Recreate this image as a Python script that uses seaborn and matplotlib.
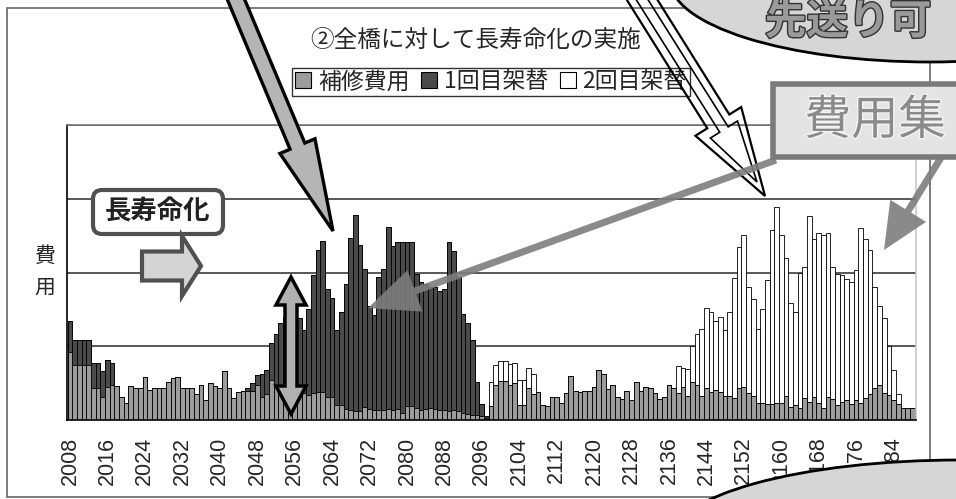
import numpy as np
import pandas as pd
import matplotlib
matplotlib.use('Agg')
import matplotlib.pyplot as plt
import matplotlib.patches as mpatches
import matplotlib.patheffects as pe
import seaborn as sns

# ---- data (y in grid units) ----
years = list(range(2008, 2189))

# 補修費用
repair = [
    0.92, 0.75, 0.75, 0.75, 0.75, 0.43, 0.43, 0.31,   # 2008-2015
    0.45, 0.47, 0.46, 0.31, 0.23, 0.46, 0.44, 0.43,   # 2016-2023
    0.58, 0.41, 0.44, 0.43, 0.43, 0.52, 0.57, 0.58,   # 2024-2031
    0.44, 0.44, 0.43, 0.35, 0.47, 0.27, 0.50, 0.46,   # 2032-2039
    0.43, 0.66, 0.43, 0.30, 0.38, 0.39, 0.39, 0.40,   # 2040-2047
    0.47, 0.31, 0.35, 0.54, 0.45, 0.42, 0.40, 0.38,   # 2048-2055
    0.36, 0.36, 0.36, 0.34, 0.37, 0.38, 0.38, 0.31,   # 2056-2063
    0.31, 0.21, 0.21, 0.15, 0.14, 0.12, 0.12, 0.18,   # 2064-2071
    0.15, 0.14, 0.14, 0.14, 0.15, 0.13, 0.15, 0.10,   # 2072-2079
    0.19, 0.19, 0.16, 0.14, 0.15, 0.16, 0.15, 0.14,   # 2080-2087
    0.14, 0.12, 0.13, 0.12, 0.10, 0.08, 0.07, 0.07,   # 2088-2095
    0.06, 0.03, 0.19, 0.47, 0.53, 0.53, 0.48, 0.50,   # 2096-2103
    0.21, 0.21, 0.43, 0.35, 0.38, 0.21, 0.19, 0.31,   # 2104-2111
    0.31, 0.23, 0.37, 0.59, 0.39, 0.38, 0.40, 0.40,   # 2112-2119
    0.45, 0.68, 0.62, 0.42, 0.48, 0.31, 0.28, 0.40,   # 2120-2127
    0.27, 0.52, 0.40, 0.45, 0.43, 0.36, 0.28, 0.31,   # 2128-2135
    0.47, 0.43, 0.36, 0.45, 0.32, 0.52, 0.47, 0.32,   # 2136-2143
    0.43, 0.38, 0.41, 0.38, 0.32, 0.32, 0.30, 0.44,   # 2144-2151
    0.45, 0.36, 0.32, 0.23, 0.23, 0.22, 0.22, 0.23,   # 2152-2159
    0.23, 0.32, 0.18, 0.21, 0.16, 0.30, 0.25, 0.31,   # 2160-2167
    0.23, 0.16, 0.31, 0.28, 0.21, 0.25, 0.27, 0.22,   # 2168-2175
    0.27, 0.23, 0.30, 0.35, 0.44, 0.48, 0.36, 0.34,   # 2176-2183
    0.27, 0.22, 0.16, 0.16, 0.16,                     # 2184-2188
]

# 1回目架替
first = [
    0.42, 0.34, 0.34, 0.34, 0.34, 0.34, 0.34, 0.35,   # 2008-2015
    0.36, 0.30, 0.00, 0.00, 0.00, 0.00, 0.00, 0.00,   # 2016-2023
    0.00, 0.00, 0.00, 0.00, 0.00, 0.00, 0.00, 0.00,   # 2024-2031
    0.00, 0.00, 0.00, 0.00, 0.00, 0.00, 0.00, 0.00,   # 2032-2039
    0.00, 0.00, 0.00, 0.00, 0.00, 0.00, 0.04, 0.10,   # 2040-2047
    0.14, 0.31, 0.33, 0.50, 0.71, 0.89, 1.00, 1.07,   # 2048-2055
    1.04, 1.02, 0.86, 1.17, 1.59, 1.93, 2.05, 1.47,   # 2056-2063
    1.35, 1.01, 1.26, 1.70, 2.33, 2.66, 2.25, 1.87,   # 2064-2071
    1.40, 1.28, 1.80, 1.91, 2.47, 2.23, 2.27, 2.32,   # 2072-2079
    2.23, 2.23, 1.82, 1.73, 1.70, 1.64, 1.65, 1.61,   # 2080-2087
    1.63, 2.30, 2.16, 1.82, 1.34, 1.23, 1.02, 0.44,   # 2088-2095
    0.16, 0.02, 0.00, 0.00, 0.00, 0.00, 0.00, 0.00,   # 2096-2103
] + [0.00] * 85                                        # 2104-2188

# 2回目架替
second = [0.00] * 90 + [                               # 2008-2097
    0.33, 0.28, 0.27, 0.27, 0.28, 0.27,               # 2098-2103
    0.33, 0.33, 0.27, 0.27, 0.00, 0.00, 0.00, 0.00,   # 2104-2111
    0.00, 0.00, 0.00, 0.00, 0.00, 0.00, 0.00, 0.00,   # 2112-2119
    0.00, 0.00, 0.00, 0.00, 0.00, 0.00, 0.00, 0.00,   # 2120-2127
    0.00, 0.00, 0.00, 0.00, 0.00, 0.00, 0.00, 0.00,   # 2128-2135
    0.00, 0.00, 0.37, 0.25, 0.37, 0.49, 0.69, 0.92,   # 2136-2143
    1.09, 1.08, 0.93, 1.02, 0.90, 1.15, 1.63, 1.91,   # 2144-2151
    2.06, 1.45, 1.32, 1.00, 1.27, 1.68, 2.36, 2.66,   # 2152-2159
    2.28, 1.87, 1.40, 1.25, 1.84, 1.78, 2.51, 2.14,   # 2160-2167
    2.31, 2.35, 2.23, 1.79, 1.77, 1.71, 1.64, 1.65,   # 2168-2175
    1.77, 2.38, 2.16, 1.96, 1.37, 1.06, 1.02, 0.66,   # 2176-2183
    0.41, 0.13, 0.00, 0.00, 0.00,                     # 2184-2188
]

series_names = ['補修費用', '1回目架替', '2回目架替']
series_colors = ['#9c9c9c', '#4a4a4a', '#ffffff']

df = pd.DataFrame({'year': years, 'repair': repair, 'first': first, 'second': second})
# stacked tops, drawn from the highest layer downwards
df['top1'] = df['repair']
df['top2'] = df['repair'] + df['first']
df['top3'] = df['top2'] + df['second']

sns.set_style('white')
plt.rcParams['font.family'] = ['Noto Sans CJK JP', 'DejaVu Sans']

W, H = 956, 499
fig = plt.figure(figsize=(W / 100, H / 100), dpi=100)
fig.patch.set_facecolor('white')
ax = fig.add_axes([67 / W, 79 / H, 849 / W, 295 / H])

for col, color in zip(['top3', 'top2', 'top1'], series_colors[::-1]):
    sns.barplot(data=df, x='year', y=col, color=color, saturation=1,
                edgecolor='black', linewidth=0.6, width=1.0, ax=ax, zorder=2)

ax.set_xlim(-0.64, 180.8)
ax.set_ylim(0, 4)
ax.set_yticks([0, 1, 2, 3, 4])
ax.set_yticklabels([])
ax.yaxis.grid(True, color='#2a2a2a', linewidth=1.1)
ax.xaxis.grid(False)
ax.set_axisbelow(True)
ax.set_xlabel('')
ax.set_ylabel('')
tick_pos = list(range(0, len(years), 8))
ax.set_xticks(tick_pos)
ax.set_xticklabels([str(years[i]) for i in tick_pos], rotation=90,
                   fontsize=15.5, fontfamily='Liberation Sans')
ax.tick_params(axis='x', length=0, pad=12)
ax.tick_params(axis='y', length=3, color='#666')
for side, c in [('left', 'black'), ('bottom', 'black'), ('top', '#777777'), ('right', '#c8c8c8')]:
    ax.spines[side].set_visible(True)
    ax.spines[side].set_color(c)
    ax.spines[side].set_linewidth(1.2)

# title, legend, axis label
fig.text(476 / W, 1 - 40 / H, '②全橋に対して長寿命化の実施', ha='center', va='center', fontsize=17)
handles = [mpatches.Patch(facecolor=c, edgecolor='black', linewidth=0.8) for c in series_colors]
leg = fig.legend(handles, series_names, loc='center', bbox_to_anchor=(491 / W, 1 - 82 / H),
                 ncol=3, fontsize=16.5, frameon=True, fancybox=False, edgecolor='black',
                 handlelength=0.7, handleheight=0.7, handletextpad=0.3, columnspacing=0.5,
                 borderpad=0.12)
leg.get_frame().set_linewidth(1.0)
fig.text(45 / W, 1 - 272 / H, '費\n用', ha='center', va='center', fontsize=15, linespacing=1.6)

# ---- overlay drawn in pixel coordinates ----
ov = fig.add_axes([0, 0, 1, 1], zorder=10)
ov.set_xlim(0, W)
ov.set_ylim(H, 0)
ov.axis('off')
ov.patch.set_alpha(0)


def arrow_pts(x0, y0, x1, y1, sw, hw, hl):
    d = np.array([x1 - x0, y1 - y0], float)
    d /= np.hypot(*d)
    n = np.array([-d[1], d[0]])
    tail, tip = np.array([x0, y0], float), np.array([x1, y1], float)
    base = tip - d * hl
    return [tail + n * sw / 2, base + n * sw / 2, base + n * hw / 2, tip,
            base - n * hw / 2, base - n * sw / 2, tail - n * sw / 2]


# outer chart frame
ov.add_patch(mpatches.Rectangle((7, 8), 923, 489, fill=False, edgecolor='#666666', linewidth=1.2))

# big grey arrow from top
ov.add_patch(mpatches.Polygon(arrow_pts(232, -10, 333, 231, 16, 38, 92),
                              facecolor='#b5b5b5', edgecolor='black', linewidth=2.4))
# double outline arrow (outline only)
ov.add_patch(mpatches.Polygon(arrow_pts(636, -10, 765, 196, 26, 54, 88),
                              fill=False, edgecolor='black', linewidth=1.6))
ov.add_patch(mpatches.Polygon(arrow_pts(636, -10, 757, 182, 10, 32, 62),
                              fill=False, edgecolor='black', linewidth=1.2))

# 長寿命化 box and right arrow
ov.add_patch(mpatches.FancyBboxPatch((93, 190), 130, 44, boxstyle='round,pad=0,rounding_size=9',
                                     facecolor='white', edgecolor='#505050', linewidth=3))
ov.text(158, 212, '長寿命化', ha='center', va='center', fontsize=19, fontweight='bold', color='#222')
ov.add_patch(mpatches.Polygon(arrow_pts(142, 266, 201, 266, 29, 60, 19),
                              facecolor='#d4d4d4', edgecolor='#505050', linewidth=3))

# vertical double-headed arrow
ov.add_patch(mpatches.Polygon([(291, 277), (306, 305), (297, 305), (297, 386), (306, 386),
                               (291, 414), (276, 386), (285, 386), (285, 305), (276, 305)],
                              facecolor='#b0b0b0', edgecolor='black', linewidth=2.5))

# 費用集 box with grey pointer arrows
ov.add_patch(mpatches.Polygon(arrow_pts(776, 160, 368, 308, 7, 44, 50),
                              facecolor='#7d7d7d', edgecolor='none', alpha=0.9))
ov.add_patch(mpatches.Polygon(arrow_pts(942, 156, 884, 250, 7, 42, 46),
                              facecolor='#7d7d7d', edgecolor='none', alpha=0.9))
ov.add_patch(mpatches.Rectangle((773, 84), 200, 73, facecolor='#e4e4e4',
                                edgecolor='#7a7a7a', linewidth=4))
ov.text(804, 121, '費用集', ha='left', va='center', fontsize=34, color='#8a8a8a',
        path_effects=[pe.withStroke(linewidth=2, foreground='#f4f4f4')])

# speech bubbles
ov.add_patch(mpatches.Ellipse((930, -20), 520, 164, facecolor='#d6d6d6',
                              edgecolor='black', linewidth=2))
ov.text(848, 22, '先送り可', ha='center', va='center', fontsize=30, fontweight='bold',
        color='#9a9a9a', path_effects=[pe.withStroke(linewidth=2, foreground='#333333')])
ov.add_patch(mpatches.Ellipse((960, 540), 580, 160, facecolor='#d6d6d6',
                              edgecolor='black', linewidth=2))

fig.savefig('out.png', dpi=100, facecolor='white')
